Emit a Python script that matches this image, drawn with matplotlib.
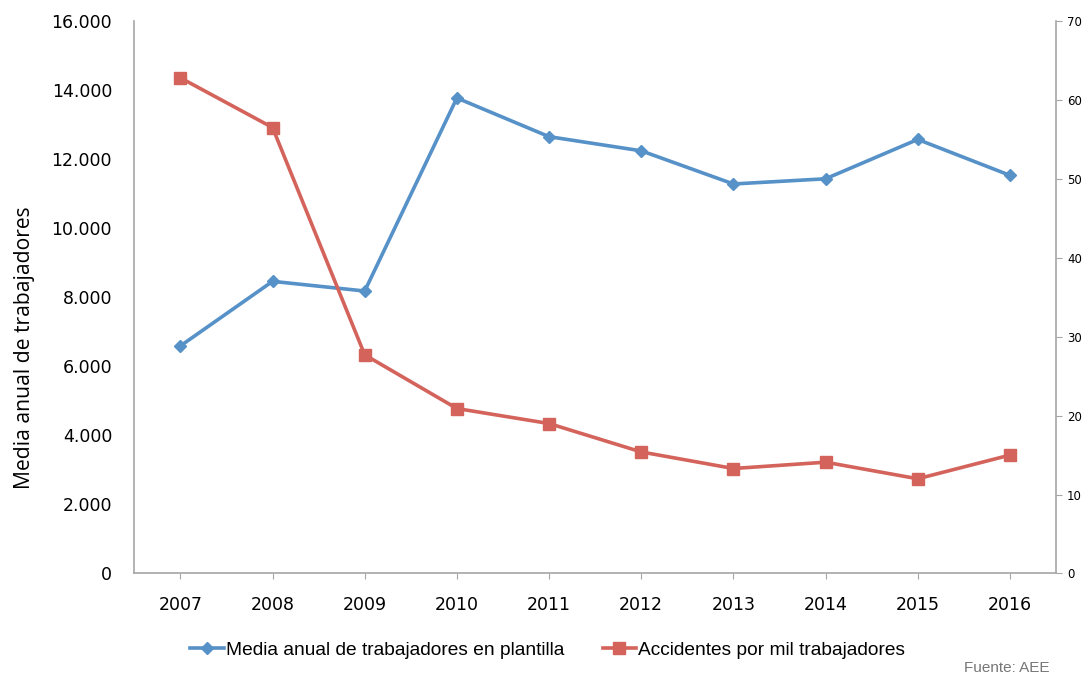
import matplotlib.pyplot as plt
from matplotlib.ticker import FuncFormatter

years = ["2007", "2008", "2009", "2010", "2011", "2012", "2013", "2014", "2015", "2016"]
trabajadores = [6590, 8460, 8180, 13770, 12650, 12240, 11280, 11430, 12570, 11530]
accidentes = [62.8, 56.5, 27.7, 20.9, 19.0, 15.4, 13.3, 14.1, 12.0, 15.0]

BLUE = "#5691c8"
RED = "#d3635b"
GRID = "#a6a6a6"
narrow = ["Liberation Sans", "DejaVu Sans"]

fig = plt.figure(figsize=(10.9, 6.77), dpi=100)
ax = fig.add_axes([0.1232, 0.1529, 0.8456, 0.8161])
ax2 = ax.twinx()

x = range(len(years))
l1, = ax.plot(x, trabajadores, color=BLUE, lw=2.6, marker="D", ms=6.5,
              label="Media anual de trabajadores en plantilla")
l2, = ax2.plot(x, accidentes, color=RED, lw=2.6, marker="s", ms=8,
               label="Accidentes por mil trabajadores")

ax.set_xlim(-0.5, len(years) - 0.5)
ax.set_ylim(0, 16000)
ax.set_yticks(range(0, 16001, 2000))
ax.yaxis.set_major_formatter(FuncFormatter(lambda v, p: f"{int(v):,}".replace(",", ".")))
ax.set_xticks(list(x))
ax.set_xticklabels(years)
ax2.set_ylim(0, 70)
ax2.set_yticks(range(0, 71, 10))

for a in (ax, ax2):
    a.spines["top"].set_visible(False)
    for s in ("left", "right", "bottom"):
        a.spines[s].set_color(GRID)
        a.spines[s].set_linewidth(1.2)

ax.tick_params(axis="y", length=0, pad=16, labelsize=12.5, colors="#000000")
ax.tick_params(axis="x", length=4, color=GRID, pad=12, labelsize=12.5)
ax2.tick_params(axis="y", length=4, color=GRID, pad=4, labelsize=8.5)
ax2.spines["left"].set_visible(False)
ax2.spines["bottom"].set_visible(False)
ax.spines["right"].set_visible(False)

# axis title sits a bit below the middle of the axis
fig.text(25 / 1090, 1 - 348 / 677, "Media anual de trabajadores", rotation=90,
         ha="center", va="center", fontsize=15.2, family="Open Sans")

fig.legend(handles=[l1, l2], loc="center left",
           bbox_to_anchor=(190 / 1090, 27 / 677), borderpad=0, borderaxespad=0,
           ncol=2, frameon=False, handlelength=1.75, handletextpad=0.12,
           columnspacing=2.0, prop={"family": narrow, "size": 13.8})
fig.text(0.963, 9 / 677, "Fuente: AEE", ha="right", va="center",
         color="#777777", fontsize=11, family=narrow)

fig.savefig("out.png", dpi=100)
